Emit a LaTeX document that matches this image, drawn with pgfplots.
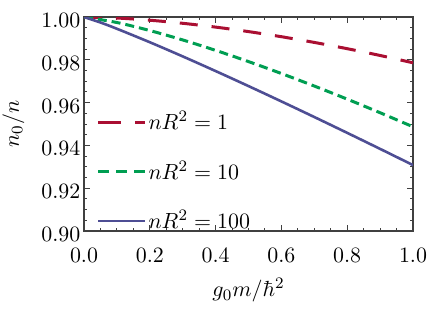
\documentclass[border=0pt]{standalone}
\usepackage{pgfplots}
\pgfplotsset{compat=1.18}
\definecolor{cred}{RGB}{170,15,50}
\definecolor{cgreen}{RGB}{0,158,82}
\definecolor{cblue}{RGB}{78,78,148}
\begin{document}
\fontsize{10.9}{13}\selectfont
\begin{tikzpicture}
\begin{axis}[
  scale only axis,
  width=164.5pt, height=107pt,
  xmin=0, xmax=1, ymin=0.90, ymax=1.00,
  xtick={0,0.2,0.4,0.6,0.8,1.0},
  ytick={0.90,0.92,0.94,0.96,0.98,1.00},
  minor x tick num=3, minor y tick num=3,
  tick align=inside,
  major tick length=3pt, minor tick length=1.6pt,
  axis line style={black!75, line width=0.6pt},
  every tick/.style={black!75, line width=0.5pt},
  xticklabel style={/pgf/number format/.cd, fixed, fixed zerofill, precision=1, /tikz/.cd, yshift=-5pt},
  yticklabel style={/pgf/number format/.cd, fixed, fixed zerofill, precision=2, /tikz/.cd, xshift=2pt, yshift=-1.7pt},
  font=\fontsize{10.9}{13}\selectfont,
  legend style={at={(axis description cs:0.037,0.58)}, anchor=north west, draw=none, fill=none,
    row sep=10pt, font=\fontsize{10.9}{13}\selectfont, inner sep=0pt, nodes={inner xsep=1pt}},
  legend cell align=left,
  clip=true,
]
\addplot[cred, line width=1.5pt, dash pattern=on 9pt off 7pt, smooth,
  legend image code/.code={\draw[cred, line width=1.5pt, dash pattern=on 11.5pt off 7pt] (0pt,0pt) -- (23.5pt,0pt);}]
  coordinates {(0,1.0) (0.1,0.99952) (0.2,0.99850) (0.3,0.99706) (0.4,0.99528) (0.5,0.99318)
  (0.6,0.99079) (0.7,0.98812) (0.8,0.98519) (0.9,0.98202) (1.0,0.9786)};
\addlegendentry{$nR^2=1$}
\addplot[cgreen, line width=1.5pt, dash pattern=on 4.5pt off 2.5pt, smooth,
  legend image code/.code={\draw[cgreen, line width=1.5pt, dash pattern=on 5.5pt off 3.5pt] (0pt,0pt) -- (23.5pt,0pt);}]
  coordinates {(0,1.0) (0.1,0.99743) (0.2,0.99367) (0.3,0.98928) (0.4,0.98441) (0.5,0.97917)
  (0.6,0.97359) (0.7,0.96774) (0.8,0.96162) (0.9,0.95527) (1.0,0.9487)};
\addlegendentry{$nR^2=10$}
\addplot[cblue, line width=1.3pt, smooth,
  legend image code/.code={\draw[cblue, line width=1.3pt] (0pt,0pt) -- (23.5pt,0pt);}]
  coordinates {(0,1.0) (0.05,0.99743) (0.1,0.99450) (0.2,0.98821) (0.3,0.98159) (0.4,0.97474) (0.5,0.96772)
  (0.6,0.96055) (0.7,0.95326) (0.8,0.94586) (0.9,0.93837) (1.0,0.9308)};
\addlegendentry{$nR^2=100$}
\coordinate (sw) at (rel axis cs:0,0);
\coordinate (ne) at (rel axis cs:1,1);
\coordinate (xmid) at (rel axis cs:0.5,0);
\coordinate (ymid) at (rel axis cs:0,0.5);
\end{axis}
\node[anchor=base, inner sep=0pt] at ([yshift=-33pt]xmid) {$g_0 m/\hbar^2$};
\node[rotate=90, anchor=base, inner sep=0pt] at ([xshift=-32.5pt]ymid) {$n_0/n$};
\pgfresetboundingbox
\useasboundingbox ([xshift=-42pt,yshift=-40pt]sw) rectangle ([xshift=8.5pt,yshift=8.5pt]ne);
\end{tikzpicture}
\end{document}
